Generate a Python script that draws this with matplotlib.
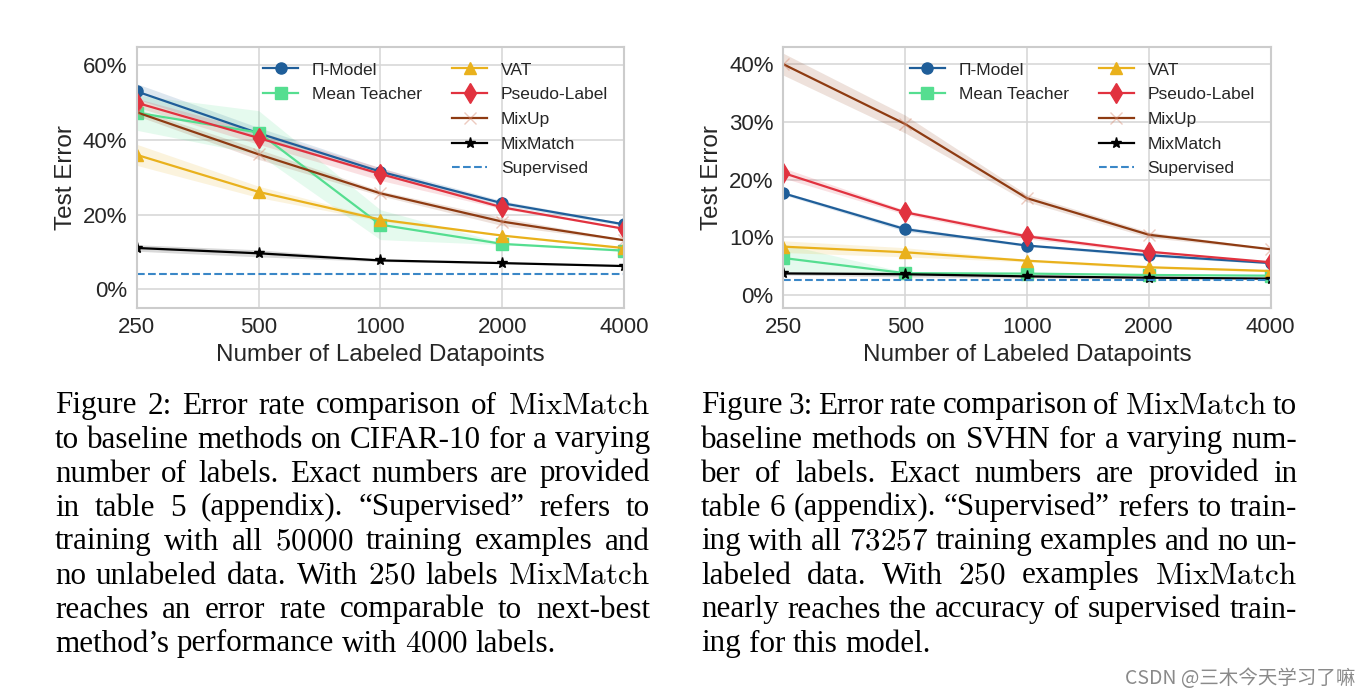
import matplotlib
matplotlib.use("Agg")
import matplotlib.pyplot as plt
from matplotlib.lines import Line2D
import numpy as np

plt.rcParams['mathtext.fontset'] = 'cm'
plt.rcParams['font.family'] = ['Liberation Sans', 'DejaVu Sans']

# --- DATA ---
labeled = [250, 500, 1000, 2000, 4000]
methods = ['Π-Model', 'Mean Teacher', 'VAT', 'Pseudo-Label', 'MixUp', 'MixMatch']

# CIFAR-10 test error (%) and spread
cifar_mean = {
    'Π-Model':      [53.02, 41.82, 31.53, 23.07, 17.41],
    'Mean Teacher': [47.32, 42.01, 17.32, 12.17, 10.36],
    'VAT':          [36.03, 26.11, 18.68, 14.40, 11.05],
    'Pseudo-Label': [49.98, 40.55, 30.91, 21.96, 16.21],
    'MixUp':        [47.43, 36.17, 25.72, 18.14, 13.15],
    'MixMatch':     [11.08, 9.65, 7.75, 7.03, 6.24],
}
cifar_std = {
    'Π-Model':      [2.05, 1.52, 0.98, 0.66, 0.37],
    'Mean Teacher': [4.71, 5.86, 4.00, 0.22, 0.25],
    'VAT':          [2.82, 1.52, 0.40, 0.15, 0.31],
    'Pseudo-Label': [1.17, 1.70, 1.73, 0.42, 0.11],
    'MixUp':        [0.92, 1.36, 0.66, 1.06, 0.20],
    'MixMatch':     [0.87, 0.94, 0.32, 0.15, 0.06],
}
cifar_supervised = 4.17

# SVHN test error (%) and spread
svhn_mean = {
    'Π-Model':      [17.65, 11.44, 8.60, 6.94, 5.57],
    'Mean Teacher': [6.45, 3.82, 3.75, 3.51, 3.39],
    'VAT':          [8.41, 7.44, 5.98, 4.85, 4.20],
    'Pseudo-Label': [21.16, 14.35, 10.19, 7.54, 5.71],
    'MixUp':        [39.97, 29.62, 16.79, 10.47, 7.96],
    'MixMatch':     [3.78, 3.64, 3.27, 3.04, 2.89],
}
svhn_std = {
    'Π-Model':      [0.27, 0.39, 0.18, 0.27, 0.14],
    'Mean Teacher': [2.43, 0.17, 0.10, 0.09, 0.11],
    'VAT':          [1.01, 0.79, 0.21, 0.23, 0.15],
    'Pseudo-Label': [0.88, 0.37, 0.41, 0.27, 0.07],
    'MixUp':        [1.89, 1.54, 0.63, 0.48, 0.14],
    'MixMatch':     [0.26, 0.46, 0.31, 0.13, 0.06],
}
svhn_supervised = 2.59

colors = {
    'Π-Model': '#1f5e99', 'Mean Teacher': '#55de90', 'VAT': '#e9b11c',
    'Pseudo-Label': '#e1323f', 'MixUp': '#8e3b12', 'MixMatch': '#000000',
}
markers = {
    'Π-Model': 'o', 'Mean Teacher': 's', 'VAT': '^',
    'Pseudo-Label': 'd', 'MixUp': 'x', 'MixMatch': '*',
}
sup_color = '#3a87c7'

caption_left = [
    "Figure 2: Error rate comparison of $\\mathrm{MixMatch}$",
    "to baseline methods on CIFAR-10 for a varying",
    "number of labels. Exact numbers are provided",
    "in table 5 (appendix).  “Supervised” refers to",
    "training with all $50000$ training examples and",
    "no unlabeled data. With $250$ labels $\\mathrm{MixMatch}$",
    "reaches an error rate comparable to next-best",
    "method’s performance with $4000$ labels.",
]
caption_right = [
    "Figure 3: Error rate comparison of $\\mathrm{MixMatch}$ to",
    "baseline methods on SVHN for a varying num-",
    "ber of labels.  Exact numbers are provided in",
    "table 6 (appendix). “Supervised” refers to train-",
    "ing with all $73257$ training examples and no un-",
    "labeled data.  With $250$ examples $\\mathrm{MixMatch}$",
    "nearly reaches the accuracy of supervised train-",
    "ing for this model.",
]

W, H = 1370, 695
fig = plt.figure(figsize=(W / 100, H / 100), dpi=100)
fig.patch.set_facecolor('white')

text_col = '#262626'


def draw_panel(rect, means, stds, sup, ylim, yticks):
    ax = fig.add_axes([rect[0] / W, 1 - rect[3] / H, (rect[2] - rect[0]) / W, (rect[3] - rect[1]) / H])
    ax.set_facecolor('white')
    handles = {}
    for m in methods:
        y = np.array(means[m])
        s = np.array(stds[m])
        c = colors[m]
        ax.fill_between(labeled, y - s, y + s, color=c, alpha=0.15, lw=0)
        if m == 'MixUp':
            h, = ax.plot(labeled, y, color=c, lw=1.6, marker='x', ms=9,
                         mec=(0.85, 0.55, 0.45, 0.45), mew=1.0)
        elif m == 'MixMatch':
            h, = ax.plot(labeled, y, color=c, lw=1.6, marker='*', ms=8)
        elif m == 'Pseudo-Label':
            h, = ax.plot(labeled, y, color=c, lw=1.6, marker='d', ms=10)
        else:
            h, = ax.plot(labeled, y, color=c, lw=1.6, marker=markers[m], ms=8)
        handles[m] = h
    hs = ax.axhline(sup, ls='--', color=sup_color, lw=1.5)

    ax.set_xscale('log', base=2)
    ax.set_xlim(labeled[0], labeled[-1])
    ax.set_xticks(labeled)
    ax.set_xticklabels([str(v) for v in labeled])
    ax.xaxis.set_minor_locator(matplotlib.ticker.NullLocator())
    ax.set_ylim(*ylim)
    ax.set_yticks(yticks)
    ax.set_yticklabels(['{}%'.format(v) for v in yticks])
    ax.tick_params(length=0, labelsize=16, colors=text_col)
    ax.tick_params(axis='x', pad=6.5)
    ax.tick_params(axis='y', pad=7)
    ax.grid(True, color='#d5d5d5', lw=1.1)
    ax.set_axisbelow(True)
    for sp in ax.spines.values():
        sp.set_color('#cccccc')
        sp.set_linewidth(1.5)
    ax.set_xlabel('Number of Labeled Datapoints', fontsize=17.5, color=text_col, labelpad=4)
    ax.set_ylabel('Test Error', fontsize=17.5, color=text_col, labelpad=4)

    blank = Line2D([], [], alpha=0)
    hl = [handles['Π-Model'], handles['Mean Teacher'], blank, blank, blank,
          handles['VAT'], handles['Pseudo-Label'], handles['MixUp'], handles['MixMatch'], hs]
    ll = ['Π-Model', 'Mean Teacher', '', '', '',
          'VAT', 'Pseudo-Label', 'MixUp', 'MixMatch', 'Supervised']
    leg = ax.legend(hl, ll, ncol=2, loc='upper left', bbox_to_anchor=(0.26, 0.94),
                    frameon=False, fontsize=12.5, borderpad=0, borderaxespad=0,
                    handlelength=2.0, handletextpad=0.8, columnspacing=1.75,
                    labelspacing=0.55)
    for t in leg.get_texts():
        t.set_color(text_col)
    return ax


draw_panel((136.7, 46.7, 624.1, 308), cifar_mean, cifar_std, cifar_supervised,
           (-5, 65), [0, 20, 40, 60])
draw_panel((783.3, 46.7, 1270.7, 308), svhn_mean, svhn_std, svhn_supervised,
           (-2.2, 43), [0, 10, 20, 30, 40])

# --- captions, justified word by word ---
renderer = fig.canvas.get_renderer()
cap_size = 22.4
first_base = 413.5
line_step = 34.0


def draw_caption(lines, x0, x1):
    for i, line in enumerate(lines):
        words = line.split()
        y = 1 - (first_base + i * line_step) / H
        texts = [fig.text(0, y, w, fontsize=cap_size, family='Liberation Serif',
                          va='baseline', ha='left', color='black') for w in words]
        widths = [t.get_window_extent(renderer).width for t in texts]
        if i < len(lines) - 1:
            gap = (x1 - x0 - sum(widths)) / (len(words) - 1)
        else:
            gap = 0.25 * cap_size * 100 / 72
        x = x0
        for t, w in zip(texts, widths):
            t.set_x(x / W)
            x += w + gap


draw_caption(caption_left, 55, 650)
draw_caption(caption_right, 701, 1297)

fig.text(1355 / W, 1 - 678 / H, 'CSDN @三木今天学习了嘛', fontsize=14, color='#8a8a8a',
         ha='right', va='center', family=['Noto Sans CJK SC', 'DejaVu Sans'])

fig.savefig('out.png', dpi=100)
